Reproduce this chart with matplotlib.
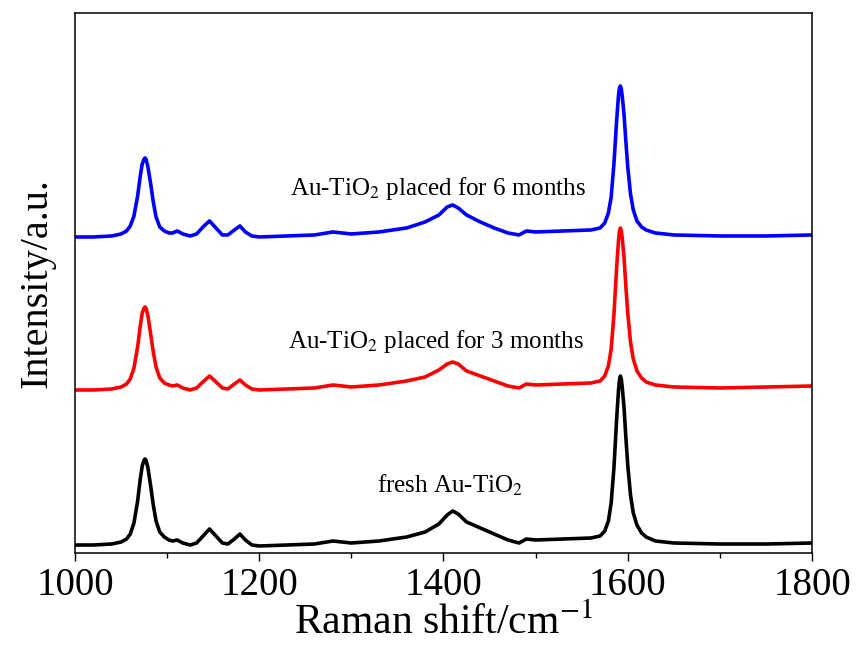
import numpy as np
import matplotlib
matplotlib.use("Agg")
import matplotlib.pyplot as plt
from matplotlib.ticker import MultipleLocator

# Raman shift (cm-1) sample points
shift = [1000, 1020, 1040, 1050, 1056, 1060, 1064, 1068, 1071, 1073, 1075, 1076,
         1077, 1079, 1082, 1085, 1088, 1092, 1097, 1102, 1106, 1111, 1117, 1125,
         1132, 1140, 1146, 1152, 1160, 1166, 1173, 1179, 1185, 1192, 1200, 1230,
         1260, 1280, 1300, 1330, 1360, 1380, 1395, 1404, 1410, 1416, 1425, 1440,
         1455, 1470, 1482, 1490, 1500, 1530, 1560, 1570, 1575, 1579, 1582, 1585,
         1588, 1590, 1591, 1592, 1593, 1594, 1596, 1598, 1600, 1603, 1606, 1610,
         1615, 1620, 1630, 1650, 1700, 1750, 1800]

# intensities (a.u., already stacked)
fresh = [8, 8, 9, 11, 14, 19, 30, 52, 75, 87, 93, 94,
         93, 86, 68, 48, 32, 21, 16, 13, 12, 13, 10, 8,
         10, 18, 24, 18, 10, 9, 14, 19, 13, 8, 7, 8,
         9, 12, 10, 12, 16, 21, 29, 38, 42, 39, 31, 25,
         19, 13, 10, 14, 13, 14, 15, 17, 22, 32, 50, 85,
         135, 163, 173, 177, 174, 166, 145, 115, 88, 58, 40, 28,
         20, 16, 12, 10, 9, 9, 10]

three_months = [163, 163, 164, 166, 169, 174, 185, 206, 228, 240, 245, 246,
                245, 238, 220, 201, 186, 175, 170, 168, 167, 168, 165, 163,
                165, 172, 177, 172, 165, 164, 169, 173, 168, 164, 163, 164,
                165, 168, 166, 168, 172, 176, 183, 189, 191, 189, 182, 177,
                172, 167, 165, 169, 168, 169, 170, 172, 177, 187, 204, 238,
                286, 313, 322, 325, 322, 315, 295, 266, 240, 211, 194, 182,
                175, 171, 168, 166, 165, 166, 167]

six_months = [316, 316, 317, 319, 322, 327, 337, 357, 378, 389, 394, 395,
              394, 387, 370, 351, 336, 326, 322, 320, 320, 322, 319, 317,
              319, 327, 332, 326, 318, 318, 323, 327, 321, 317, 316, 317,
              318, 321, 319, 321, 325, 331, 338, 346, 348, 345, 338, 331,
              325, 320, 318, 322, 321, 322, 323, 325, 330, 340, 356, 389,
              433, 458, 465, 467, 464, 457, 438, 411, 386, 359, 343, 332,
              326, 323, 320, 318, 317, 317, 318]

labels = ["fresh Au-TiO$_2$",
          "Au-TiO$_2$ placed for 3 months",
          "Au-TiO$_2$ placed for 6 months"]

plt.rcParams['font.family'] = 'Liberation Serif'
plt.rcParams['mathtext.fontset'] = 'stix'

fig = plt.figure(figsize=(8.56, 6.48), dpi=100)
ax = fig.add_axes([0.0876, 0.1466, 0.8610, 0.8334])

ax.plot(shift, fresh, color='black', lw=2.6, solid_joinstyle='round')
ax.plot(shift, three_months, color='#ff0000', lw=2.6, solid_joinstyle='round')
ax.plot(shift, six_months, color='#0000ff', lw=2.6, solid_joinstyle='round')

ax.text(1407, 60, labels[0], fontsize=18, ha='center', va='baseline')
ax.text(1392, 205, labels[1], fontsize=18, ha='center', va='baseline')
ax.text(1394, 358, labels[2], fontsize=18, ha='center', va='baseline')

ax.set_xlim(1000, 1800)
ax.set_ylim(0, 540)
ax.xaxis.set_major_locator(MultipleLocator(200))
ax.xaxis.set_minor_locator(MultipleLocator(100))
ax.tick_params(axis='x', which='major', direction='out', length=6, width=1,
               labelsize=28, pad=4, top=False)
ax.tick_params(axis='x', which='minor', direction='out', length=3.5, width=1, top=False)
ax.set_yticks([])
for s in ax.spines.values():
    s.set_linewidth(1.1)

ax.set_xlabel('Raman shift/cm$^{-1}$', fontsize=30, labelpad=0)
ax.set_ylabel('Intensity/a.u.', fontsize=29, labelpad=14)

fig.savefig('out.png', dpi=100)
